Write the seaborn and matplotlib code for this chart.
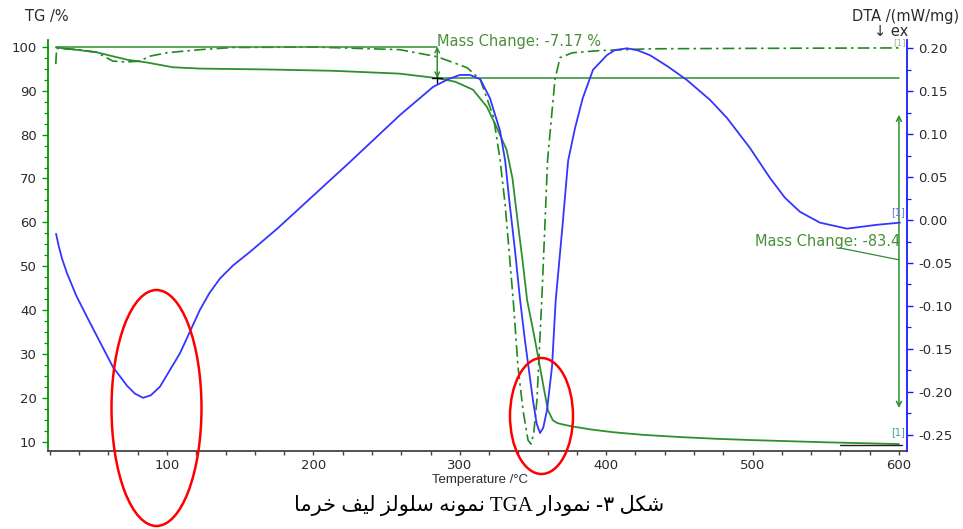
import numpy as np
import pandas as pd
import seaborn as sns
import matplotlib
matplotlib.use("Agg")
import matplotlib.pyplot as plt
from matplotlib.patches import Ellipse
from matplotlib.ticker import MultipleLocator

# ---- thermogram data -------------------------------------------------------
tg_temp = [24.2, 40, 52, 63, 73, 86, 104, 122.5, 145, 168, 213, 259, 275, 284.6,
           297, 309, 318.5, 325, 332, 336, 339.8, 343, 346, 349.5, 352.7, 356.8,
           360.2, 363.6, 366.5, 369.8, 377, 390, 404.6, 425, 450, 475, 500, 550, 600]
tg_mass = [99.8, 99.2, 98.7, 97.8, 97.0, 96.4, 95.3, 95.0, 94.9, 94.8, 94.5, 93.85,
           93.2, 92.83, 92.0, 90.2, 86.3, 81.8, 76.5, 70.0, 59.5, 51.0, 42.3, 36.5,
           30.9, 23.4, 17.3, 15.0, 14.4, 14.1, 13.6, 12.9, 12.3, 11.7, 11.2, 10.8,
           10.5, 10.0, 9.6]

dta_temp = [24.2, 26, 28.3, 31.7, 38, 45.4, 54.2, 63, 72.7, 78, 83.6, 89, 95.2,
            108.9, 122.5, 129, 136.2, 145, 156.7, 175.1, 190.8, 225, 259.2, 281.7,
            292, 300, 307, 314, 320.6, 327.5, 331, 334, 337.7, 341, 344.5, 350,
            352.5, 354.8, 357, 359.6, 363, 365.5, 370, 374, 378.7, 384, 391, 400.5,
            406, 414.2, 421, 429.9, 442, 455.2, 470.9, 482.5, 498.2, 511.9, 522.1,
            532.4, 546, 564.5, 585, 600.7]
dta_val = [-0.016, -0.03, -0.045, -0.062, -0.088, -0.113, -0.142, -0.171, -0.193,
           -0.202, -0.207, -0.204, -0.194, -0.155, -0.1045, -0.085, -0.068, -0.053,
           -0.037, -0.0103, 0.0142, 0.0677, 0.1224, 0.155, 0.164, 0.169, 0.169,
           0.164, 0.142, 0.104, 0.069, 0.02, -0.035, -0.09, -0.14, -0.21, -0.237,
           -0.248, -0.242, -0.221, -0.171, -0.094, -0.01, 0.069, 0.107, 0.142,
           0.175, 0.192, 0.198, 0.200, 0.198, 0.192, 0.179, 0.163, 0.140, 0.119,
           0.084, 0.049, 0.026, 0.0096, -0.003, -0.010, -0.0055, -0.003]

dtg_temp = [24.0, 24.6, 40, 52, 63, 72, 81.5, 88, 100, 122.5, 145, 200, 259,
            284.6, 305, 314, 323, 327.5, 331, 336.5, 339.8, 343.2, 346.6, 348.6,
            350.5, 352.7, 356, 360, 365, 368.5, 377, 396, 430, 500, 600]
dtg_val = [96.0, 99.6, 99.3, 98.7, 96.7, 96.5, 96.7, 97.8, 98.6, 99.3, 99.8, 99.9,
           99.3, 97.7, 95.2, 92.5, 84.0, 74.3, 64.0, 42.3, 27.1, 17.3, 10.5, 9.6,
           12.0, 19.6, 42.3, 74.3, 92.5, 97.5, 98.6, 99.1, 99.5, 99.6, 99.7]

# mass-change steps (%)
start_level = 100.0
step1_temp = 284.6
step1_change = -7.17
step2_change = -83.4
level1 = start_level + step1_change
level2 = level1 + step2_change

x_ticks = [100, 200, 300, 400, 500, 600]
tg_ticks = [10, 20, 30, 40, 50, 60, 70, 80, 90, 100]
dta_ticks = [-0.25, -0.20, -0.15, -0.10, -0.05, 0.00, 0.05, 0.10, 0.15, 0.20]

caption = "شکل ۳- نمودار TGA نمونه سلولز لیف خرما"

# ---- Persian caption: contextual forms in left-to-right drawing order -------
ARABIC_FORMS = {
    # letter: (isolated, final, initial, medial); right-joining letters have no initial/medial
    'ا': ('\ufe8d', '\ufe8e', None, None),
    'د': ('\ufea9', '\ufeaa', None, None),
    'ر': ('\ufead', '\ufeae', None, None),
    'ز': ('\ufeaf', '\ufeb0', None, None),
    'و': ('\ufeed', '\ufeee', None, None),
    'خ': ('\ufea5', '\ufea6', '\ufea7', '\ufea8'),
    'س': ('\ufeb1', '\ufeb2', '\ufeb3', '\ufeb4'),
    'ش': ('\ufeb5', '\ufeb6', '\ufeb7', '\ufeb8'),
    'ف': ('\ufed1', '\ufed2', '\ufed3', '\ufed4'),
    'ل': ('\ufedd', '\ufede', '\ufedf', '\ufee0'),
    'م': ('\ufee1', '\ufee2', '\ufee3', '\ufee4'),
    'ن': ('\ufee5', '\ufee6', '\ufee7', '\ufee8'),
    'ه': ('\ufee9', '\ufeea', '\ufeeb', '\ufeec'),
    '\u06a9': ('\ufb8e', '\ufb8f', '\ufb90', '\ufb91'),
    '\u06cc': ('\ufbfc', '\ufbfd', '\ufbfe', '\ufbff'),
}


def shape_word(word):
    out = []
    for i, ch in enumerate(word):
        forms = ARABIC_FORMS.get(ch)
        if forms is None:
            out.append(ch)
            continue
        prev = word[i - 1] if i > 0 else ''
        nxt = word[i + 1] if i + 1 < len(word) else ''
        joins_prev = prev in ARABIC_FORMS and ARABIC_FORMS[prev][2] is not None
        joins_next = forms[2] is not None and nxt in ARABIC_FORMS
        if joins_prev and joins_next:
            out.append(forms[3])
        elif joins_prev:
            out.append(forms[1])
        elif joins_next:
            out.append(forms[2])
        else:
            out.append(forms[0])
    return ''.join(reversed(out))


def visual_rtl(text):
    text = text.replace('\u0643', '\u06a9').replace('\u064a', '\u06cc')
    words = []
    for w in text.split(' '):
        if any(c in ARABIC_FORMS or '\u06f0' <= c <= '\u06f9' for c in w):
            words.append(shape_word(w))
        else:
            words.append(w)
    return ' '.join(reversed(words))


# ---- figure ------------------------------------------------------------------
sns.set_theme(style="white")
plt.rcParams['font.family'] = ['DejaVu Sans']

W, H = 963, 529
fig = plt.figure(figsize=(W / 100, H / 100), dpi=100)
ax = fig.add_axes([48 / W, 1 - 450.7 / H, 859 / W, 410.7 / H])
ax2 = ax.twinx()

GREEN = "#2f8f2f"
GREEN_DD = "#1f8a1f"
BLUE = "#3535ff"
TXT = "#2a2a33"
LABEL_GREEN = "#4a8f3a"

tg_df = pd.DataFrame({"temp": tg_temp, "tg": tg_mass})
dtg_df = pd.DataFrame({"temp": dtg_temp, "dtg": dtg_val})
dta_df = pd.DataFrame({"temp": dta_temp, "dta": dta_val})

sns.lineplot(data=tg_df, x="temp", y="tg", ax=ax, color=GREEN, lw=1.3,
             estimator=None, sort=False)
sns.lineplot(data=dtg_df, x="temp", y="dtg", ax=ax, color=GREEN_DD, lw=1.2,
             estimator=None, sort=False, linestyle=(0, (7, 2.5, 1.5, 2.5)))
sns.lineplot(data=dta_df, x="temp", y="dta", ax=ax2, color=BLUE, lw=1.3,
             estimator=None, sort=False)

# mass-change construction lines
ax.plot([tg_temp[0], step1_temp], [start_level, start_level], color=GREEN, lw=1.1)
ax.plot([step1_temp, 600], [level1, level1], color=GREEN, lw=1.1)
ax.plot([560, 602], [level2, level2], color="#222222", lw=1.0)
ax.annotate("", xy=(step1_temp, start_level), xytext=(step1_temp, level1),
            arrowprops=dict(arrowstyle="<->", color=GREEN, lw=1.1,
                            mutation_scale=8, shrinkA=0, shrinkB=0))
ax.plot([step1_temp - 3.5, step1_temp + 3.5], [level1, level1], color="black", lw=1.0)
ax.plot([step1_temp, step1_temp], [level1 - 1.1, level1 + 1.1], color="black", lw=1.0)
ax.annotate("", xy=(600, 84.5), xytext=(600, 17.8),
            arrowprops=dict(arrowstyle="<->", color=GREEN, lw=1.1,
                            mutation_scale=9, shrinkA=0, shrinkB=0))
ax.plot([559.7, 600], [54.2, 51.5], color=GREEN, lw=0.9)

ax.text(step1_temp, 101.1, f"Mass Change: {step1_change:.2f} %", color=LABEL_GREEN,
        fontsize=10.5, va="center", ha="left", clip_on=False)
ax.text(501.6, 55.6, f"Mass Change: {step2_change:.1f}", color=LABEL_GREEN,
        fontsize=10.5, va="center", ha="left")

ax.text(600.8, 100.9, "[1]", color="#9ab89a", fontsize=6.5, ha="center",
        va="center", clip_on=False)
ax.text(599.3, 12.4, "[1]", color="#3aa0a0", fontsize=7, ha="center", va="center")
ax2.text(599.3, 0.0095, "[1]", color="#6a6aff", fontsize=7, ha="center", va="center")

# axes styling
ax.set_xlim(18.7, 605.5)
ax.set_ylim(8.09, 101.5)
ax2.set_ylim(-0.2686, 0.2097)
ax.set_xticks(x_ticks)
ax.set_yticks(tg_ticks)
ax2.set_yticks(dta_ticks)
ax.xaxis.set_minor_locator(MultipleLocator(20))
ax.yaxis.set_minor_locator(MultipleLocator(2.5))
ax2.yaxis.set_minor_locator(MultipleLocator(0.025))
ax.set_xticklabels([str(v) for v in x_ticks])
ax.set_yticklabels([str(v) for v in tg_ticks])
ax2.set_yticklabels([f"{v:.2f}" for v in dta_ticks])

for a in (ax, ax2):
    a.spines["top"].set_visible(False)
    a.grid(False)
    a.set_facecolor("none")
    a.set_xlabel("")
    a.set_ylabel("")
ax.spines["right"].set_visible(False)
ax2.spines["left"].set_visible(False)
ax2.spines["bottom"].set_visible(False)
ax.spines["left"].set_color("#009a00")
ax.spines["left"].set_linewidth(1.3)
ax.spines["bottom"].set_color("#444444")
ax.spines["bottom"].set_linewidth(1.3)
ax2.spines["right"].set_color("#1a1aff")
ax2.spines["right"].set_linewidth(1.3)

ax.tick_params(axis="y", which="both", direction="out", left=True, colors="#009a00",
               labelcolor=TXT, labelsize=9.5, pad=4)
ax.tick_params(axis="y", which="major", length=4, width=1)
ax.tick_params(axis="y", which="minor", length=3, width=0.9)
ax.tick_params(axis="x", which="both", direction="out", bottom=True, colors="#444444",
               labelcolor=TXT, labelsize=9.5, length=3, width=1, pad=3)
ax2.tick_params(axis="y", which="both", direction="out", right=True, colors="#1a1aff",
                labelcolor=TXT, labelsize=9.5, pad=4)
ax2.tick_params(axis="y", which="major", length=4, width=1)
ax2.tick_params(axis="y", which="minor", length=3, width=0.9)

# axis titles
fig.text(25 / W, 1 - 16 / H, "TG /%", fontsize=10.5, color=TXT, ha="left",
         va="center")
fig.text(852 / W, 1 - 16 / H, "DTA /(mW/mg)", fontsize=10.5, color=TXT, ha="left",
         va="center")
fig.text(874 / W, 1 - 32 / H, "\u2193 ex", fontsize=10.5, color=TXT, ha="left",
         va="center")
fig.text(480 / W, 1 - 480 / H, "Temperature /\u00b0C", fontsize=9.5, color=TXT,
         ha="center", va="center", family=["Liberation Sans", "DejaVu Sans"])
fig.text(479 / W, 1 - 505 / H, visual_rtl(caption), fontsize=15, color="black",
         ha="center", va="center", family=["Liberation Serif", "DejaVu Sans"])

# highlight ellipses
for cx, cy, ew, eh in [(156.5, 408, 90, 236), (541.5, 416, 63, 116)]:
    fig.add_artist(Ellipse((cx / W, 1 - cy / H), ew / W, eh / H, fill=False,
                           edgecolor="#ff0000", lw=1.8, transform=fig.transFigure,
                           zorder=10))

fig.savefig("out.png", dpi=100)
